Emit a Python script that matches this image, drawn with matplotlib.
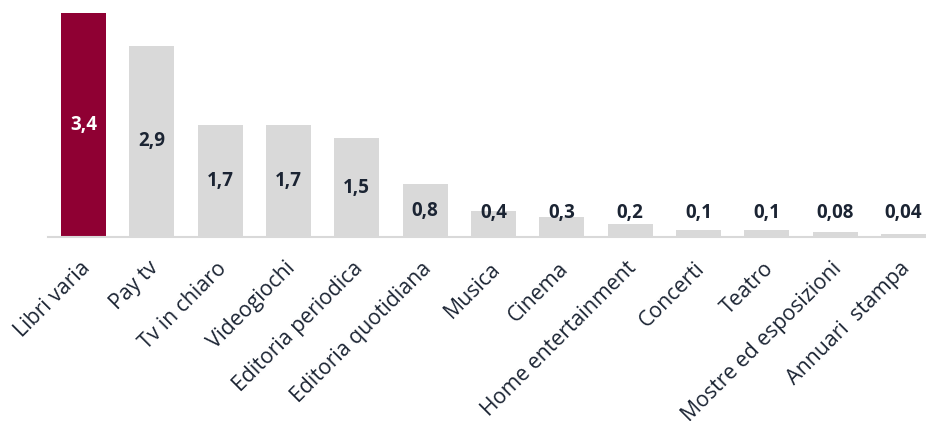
import matplotlib
matplotlib.use("Agg")
import matplotlib.pyplot as plt
import matplotlib.transforms as mtransforms

# Valori per settore
settori = ["Libri varia", "Pay tv", "Tv in chiaro", "Videogiochi", "Editoria periodica",
           "Editoria quotidiana", "Musica", "Cinema", "Home entertainment", "Concerti",
           "Teatro", "Mostre ed esposizioni", "Annuari  stampa"]
valori = [3.4, 2.9, 1.7, 1.7, 1.5, 0.8, 0.4, 0.3, 0.2, 0.1, 0.1, 0.08, 0.04]

rosso = "#8f0033"
grigio = "#d9d9d9"
testo = "#1b2433"

plt.rcParams['font.family'] = ['Open Sans', 'DejaVu Sans']

fig = plt.figure(figsize=(9.26, 4.21), dpi=100)
W, H = 926, 421
ax = fig.add_axes([48 / W, 1 - 237 / H, (W - 48) / W, (237 - 13) / H])

colori = [rosso] + [grigio] * (len(valori) - 1)
x = list(range(len(valori)))
ax.bar(x, valori, width=0.66, color=colori)

for i, v in enumerate(valori):
    etichetta = f"{v:g}".replace(".", ",")
    y = max(v / 2, 0.37)
    ax.text(i, y, etichetta, ha="center", va="center", fontsize=13.5, fontweight="bold",
            color="white" if i == 0 else testo)

ax.set_xlim(-0.52, 12.33)
ax.set_ylim(0, 3.4)
ax.set_yticks([])
ax.set_xticks(x)
ax.set_xticklabels(settori, rotation=45, ha="right", rotation_mode="anchor",
                   fontsize=15.3, color=testo)
ax.tick_params(axis="x", length=0, pad=15)

# sposta un po' le etichette a sinistra
sposta = mtransforms.ScaledTranslation(-4 / 100, 0, fig.dpi_scale_trans)
for lab in ax.get_xticklabels():
    lab.set_transform(lab.get_transform() + sposta)

for s in ["top", "right", "left"]:
    ax.spines[s].set_visible(False)
ax.spines["bottom"].set_color(grigio)
ax.spines["bottom"].set_linewidth(1.5)

fig.savefig("out.png", dpi=100)
